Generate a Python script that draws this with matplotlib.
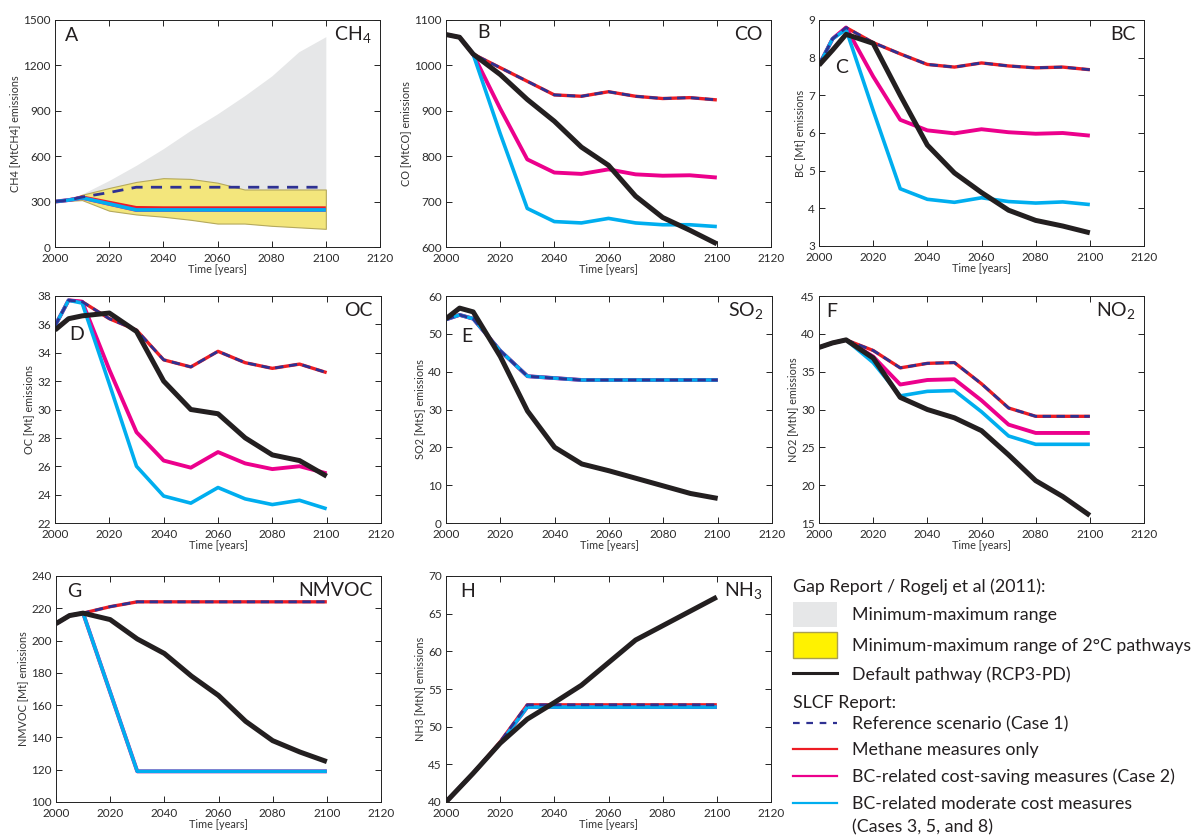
import matplotlib
matplotlib.use("Agg")
import matplotlib.pyplot as plt
from matplotlib.patches import Rectangle
from matplotlib.lines import Line2D

plt.rcParams['font.family'] = ['Lato', 'DejaVu Sans']
plt.rcParams['mathtext.default'] = 'regular'

# ---- data ----
years = [2000, 2005, 2010, 2020, 2030, 2040, 2050, 2060, 2070, 2080, 2090, 2100]

# CH4 ranges (Gap report)
ch4_max = [300, 320, 350, 440, 540, 650, 770, 880, 1000, 1130, 1290, 1390]
ch4_2c_hi = [300, 310, 345, 390, 430, 455, 450, 425, 380, 380, 380, 380]
ch4_2c_lo = [300, 305, 310, 240, 215, 200, 180, 155, 155, 140, 130, 120]
ch4_ref = [300, 310, 330, 360, 395, 395, 395, 395, 395, 395, 395, 395]
ch4_meth = [300, 310, 330, 295, 260, 258, 258, 258, 258, 258, 258, 258]
ch4_bcsave = [300, 310, 325, 285, 245, 245, 245, 245, 245, 245, 245, 245]
ch4_bcmod = [300, 310, 325, 285, 245, 245, 245, 245, 245, 245, 245, 245]

co_def = [1068, 1062, 1025, 980, 925, 877, 820, 780, 712, 665, 637, 607]
co_ref = [1068, 1062, 1025, 995, 965, 935, 932, 942, 932, 927, 929, 924]
co_bcsave = [1068, 1062, 1025, 905, 793, 764, 761, 771, 760, 757, 758, 753]
co_bcmod = [1068, 1062, 1025, 850, 685, 656, 653, 663, 653, 649, 649, 645]

bc_def = [7.8, 8.2, 8.62, 8.38, 7.0, 5.68, 4.94, 4.42, 3.95, 3.68, 3.53, 3.35]
bc_ref = [7.8, 8.5, 8.8, 8.4, 8.1, 7.82, 7.75, 7.86, 7.78, 7.73, 7.75, 7.68]
bc_bcsave = [7.8, 8.5, 8.8, 7.5, 6.35, 6.07, 5.99, 6.1, 6.02, 5.98, 6.0, 5.93]
bc_bcmod = [7.8, 8.5, 8.75, 6.6, 4.52, 4.24, 4.16, 4.28, 4.18, 4.14, 4.17, 4.1]

oc_def = [35.6, 36.4, 36.6, 36.8, 35.5, 32.0, 30.0, 29.7, 28.0, 26.8, 26.4, 25.3]
oc_ref = [35.9, 37.7, 37.6, 36.4, 35.6, 33.5, 33.0, 34.1, 33.3, 32.9, 33.2, 32.6]
oc_bcsave = [35.9, 37.7, 37.6, 32.8, 28.4, 26.4, 25.9, 27.0, 26.2, 25.8, 26.0, 25.5]
oc_bcmod = [35.9, 37.7, 37.5, 31.8, 26.0, 23.9, 23.4, 24.5, 23.7, 23.3, 23.6, 23.0]

so2_def = [54.0, 56.8, 55.8, 44.0, 29.6, 20.0, 15.6, 13.8, 11.8, 9.8, 7.8, 6.5]
so2_ref = [53.8, 55.0, 54.0, 45.5, 38.8, 38.3, 37.8, 37.8, 37.8, 37.8, 37.8, 37.8]

no2_def = [38.2, 38.8, 39.2, 36.8, 31.6, 30.0, 28.9, 27.2, 24.0, 20.6, 18.5, 16.0]
no2_ref = [38.2, 38.8, 39.2, 37.8, 35.5, 36.1, 36.2, 33.4, 30.2, 29.1, 29.1, 29.1]
no2_bcsave = [38.2, 38.8, 39.2, 37.0, 33.3, 33.9, 34.0, 31.2, 28.0, 26.9, 26.9, 26.9]
no2_bcmod = [38.2, 38.8, 39.2, 36.2, 31.8, 32.4, 32.5, 29.7, 26.5, 25.4, 25.4, 25.4]

voc_def = [210.5, 215.5, 217, 213, 201, 192, 178, 166, 150, 138, 131, 125]
voc_ref = [210.5, 215.5, 217, 221, 224, 224, 224, 224, 224, 224, 224, 224]
voc_bc = [210.5, 215.5, 217, 168, 119, 119, 119, 119, 119, 119, 119, 119]

nh3_def = [40.0, 41.9, 43.8, 47.8, 51.0, 53.2, 55.5, 58.5, 61.5, 63.4, 65.3, 67.2]
nh3_ref = [40.0, 41.9, 43.8, 48.0, 52.9, 52.9, 52.9, 52.9, 52.9, 52.9, 52.9, 52.9]
nh3_bc = [40.0, 41.9, 43.8, 47.8, 52.6, 52.6, 52.6, 52.6, 52.6, 52.6, 52.6, 52.6]

# colours
BLACK = '#231F20'
RED = '#ED1C24'
MAGENTA = '#EC008C'
CYAN = '#00AEEF'
NAVY = '#2E3192'
GREY = '#E6E7E8'
YELLOW = '#F3E67C'


def px_axes(fig, left, top, right, bottom):
    W, H = 1198.0, 836.0
    return fig.add_axes([left / W, 1 - bottom / H, (right - left) / W, (bottom - top) / H])


def style(ax, ylim, yticks, ylabel, letter, lpos, species):
    ax.set_xlim(2000, 2120)
    ax.set_xticks(range(2000, 2121, 20))
    ax.set_ylim(*ylim)
    ax.set_yticks(yticks)
    ax.tick_params(direction='in', length=4, width=0.6, top=True, right=True,
                   labelsize=8.5, labelcolor='#2b2b2b')
    ax.tick_params(axis='y', pad=3)
    ax.tick_params(axis='x', pad=4)
    for s in ax.spines.values():
        s.set_linewidth(0.7)
        s.set_color('#222222')
    ax.set_xlabel('Time [years]', fontsize=7.8, color='#333333', labelpad=0)
    ax.set_ylabel(ylabel, fontsize=7.8, color='#333333', labelpad=2)
    ax.text(lpos[0], lpos[1], letter, transform=ax.transAxes, fontsize=14,
            color='#231F20', ha='center', va='center')
    ax.text(0.975, 0.935, species, transform=ax.transAxes, fontsize=14,
            color='#231F20', ha='right', va='center')


def draw(ax, ref=None, meth=None, bcsave=None, bcmod=None, default=None, dash=(3, 2)):
    if meth is not None:
        ax.plot(years, meth, color=RED, lw=2.4, solid_capstyle='butt')
    if bcsave is not None:
        ax.plot(years, bcsave, color=MAGENTA, lw=2.8, solid_capstyle='butt')
    if bcmod is not None:
        ax.plot(years, bcmod, color=CYAN, lw=2.6, solid_capstyle='butt')
    if ref is not None:
        ax.plot(years, ref, color=NAVY, lw=2.0, dashes=dash)
    if default is not None:
        ax.plot(years, default, color=BLACK, lw=3.6, solid_capstyle='butt')


fig = plt.figure(figsize=(11.98, 8.36), dpi=100)

# A  CH4
ax = px_axes(fig, 55, 20, 380, 247)
ax.fill_between(years, ch4_2c_lo, ch4_max, color=GREY, lw=0)
ax.fill_between(years, ch4_2c_lo, ch4_2c_hi, facecolor=YELLOW, edgecolor='#B5A95C', lw=0.8)
draw(ax, ref=ch4_ref, meth=ch4_meth, bcsave=ch4_bcsave, bcmod=ch4_bcmod, dash=(4, 3))
style(ax, (0, 1500), range(0, 1501, 300), 'CH4 [MtCH4] emissions', 'A', (0.05, 0.93), 'CH$_4$')

# B  CO
ax = px_axes(fig, 446, 20, 771, 247)
draw(ax, ref=co_ref, meth=co_ref, bcsave=co_bcsave, bcmod=co_bcmod, default=co_def)
style(ax, (600, 1100), range(600, 1101, 100), 'CO [MtCO] emissions', 'B', (0.115, 0.945), 'CO')

# C  BC
ax = px_axes(fig, 819, 20, 1144, 246)
draw(ax, ref=bc_ref, meth=bc_ref, bcsave=bc_bcsave, bcmod=bc_bcmod, default=bc_def)
style(ax, (3, 9), range(3, 10), 'BC [Mt] emissions', 'C', (0.07, 0.79), 'BC')

# D  OC
ax = px_axes(fig, 55, 296, 381, 523)
draw(ax, ref=oc_ref, meth=oc_ref, bcsave=oc_bcsave, bcmod=oc_bcmod, default=oc_def)
style(ax, (22, 38), range(22, 39, 2), 'OC [Mt] emissions', 'D', (0.065, 0.83), 'OC')

# E  SO2
ax = px_axes(fig, 446, 296, 772, 523)
draw(ax, ref=so2_ref, meth=so2_ref, bcsave=so2_ref, bcmod=so2_ref, default=so2_def)
style(ax, (0, 60), range(0, 61, 10), 'SO2 [MtS] emissions', 'E', (0.065, 0.82), 'SO$_2$')

# F  NO2
ax = px_axes(fig, 819, 296, 1144, 523)
draw(ax, ref=no2_ref, meth=no2_ref, bcsave=no2_bcsave, bcmod=no2_bcmod, default=no2_def)
style(ax, (15, 45), range(15, 46, 5), 'NO2 [MtN] emissions', 'F', (0.04, 0.93), 'NO$_2$')

# G  NMVOC
ax = px_axes(fig, 56, 576, 381, 802)
draw(ax, ref=voc_ref, meth=voc_ref, bcsave=voc_bc, bcmod=voc_bc, default=voc_def)
style(ax, (100, 240), range(100, 241, 20), 'NMVOC [Mt] emissions', 'G', (0.055, 0.93), 'NMVOC')

# H  NH3
ax = px_axes(fig, 446, 576, 771, 802)
draw(ax, ref=nh3_ref, meth=nh3_ref, bcsave=nh3_bc, bcmod=nh3_bc, default=nh3_def)
style(ax, (40, 70), range(40, 71, 5), 'NH3 [MtN] emissions', 'H', (0.068, 0.93), 'NH$_3$')

# ---- legend drawn in figure pixels ----
W, H = 1198.0, 836.0


def fx(x):
    return x / W


def fy(y):
    return 1 - y / H


tx = 852
fs = 12.8
fig.text(fx(793), fy(587), 'Gap Report / Rogelj et al (2011):', fontsize=fs, va='center', color='#231F20')
fig.patches.append(Rectangle((fx(793), fy(627)), fx(44), 25 / H, transform=fig.transFigure,
                             facecolor=GREY, edgecolor='none'))
fig.text(fx(tx), fy(615), 'Minimum-maximum range', fontsize=fs, va='center', color='#231F20')
fig.patches.append(Rectangle((fx(793), fy(658)), fx(44), 26 / H, transform=fig.transFigure,
                             facecolor='#FFF200', edgecolor='#A9A050', lw=1.0))
fig.text(fx(tx), fy(646), 'Minimum-maximum range of 2°C pathways', fontsize=fs, va='center', color='#231F20')
fig.lines.append(Line2D([fx(793), fx(837)], [fy(673), fy(673)], transform=fig.transFigure,
                        color=BLACK, lw=2.2))
fig.text(fx(tx), fy(675), 'Default pathway (RCP3-PD)', fontsize=fs, va='center', color='#231F20')
fig.text(fx(793), fy(703), 'SLCF Report:', fontsize=fs, va='center', color='#231F20')
items = [('Reference scenario (Case 1)', NAVY, 723, True),
         ('Methane measures only', RED, 749, False),
         ('BC-related cost-saving measures (Case 2)', MAGENTA, 776, False),
         ('BC-related moderate cost measures', CYAN, 803, False)]
for label, col, y, dashed in items:
    ln = Line2D([fx(793), fx(837)], [fy(y), fy(y)], transform=fig.transFigure, color=col, lw=1.6)
    if dashed:
        ln.set_dashes((3, 3))
    fig.lines.append(ln)
    fig.text(fx(tx), fy(y + 1), label, fontsize=fs, va='center', color='#231F20')
fig.text(fx(tx), fy(827), '(Cases 3, 5, and 8)', fontsize=fs, va='center', color='#231F20')

fig.savefig('out.png', dpi=100)
